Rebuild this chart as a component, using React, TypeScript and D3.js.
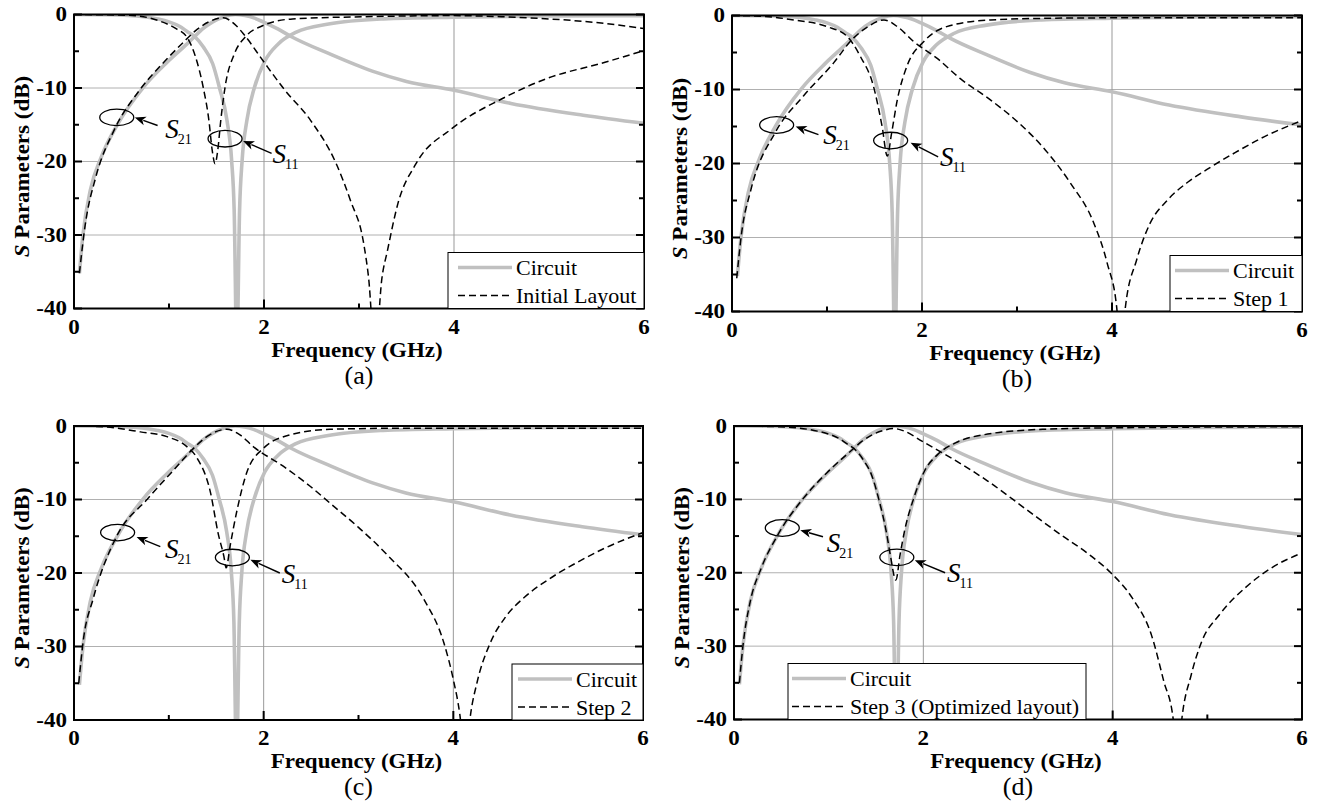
import React from 'react';
import * as d3 from 'd3';

type Pt = [number, number];

const xTicks = [0, 2, 4, 6];
const xMinorTicks = [1, 3, 5];
const yTicks = [0, -10, -20, -30, -40];
const yMinorTicks = [-5, -15, -25, -35];

// circuit response (same in every panel)
const circuitS21: Pt[] = [[0.057,-35.2],[0.096,-29.8],[0.172,-23.9],[0.287,-19.4],[0.46,-14.9],[0.73,-9.9],[0.98,-6.5],[1.19,-4.0],[1.27,-3.0],[1.35,-2.0],[1.46,-1.0],[1.58,-0.3],[1.70,0],[1.80,-0.15],[1.90,-0.5],[1.99,-1.0],[2.15,-2.0],[2.30,-3.1],[2.68,-5.3],[3.14,-7.7],[3.5,-9.1],[4.0,-10.3],[4.6,-12.1],[5.36,-13.7],[6.0,-14.8]];
const circuitS11: Pt[] = [[0,0],[0.3,-0.03],[0.57,-0.12],[0.88,-0.6],[1.0,-1.0],[1.11,-1.6],[1.19,-2.3],[1.27,-3.0],[1.36,-4.4],[1.46,-6.7],[1.53,-9.9],[1.61,-14.4],[1.659,-19.8],[1.686,-26.6],[1.714,-46],[1.743,-26.6],[1.77,-19.8],[1.82,-14.4],[1.90,-9.9],[2.01,-6.3],[2.15,-4.0],[2.34,-2.4],[2.68,-1.3],[3.26,-0.6],[4.0,-0.36],[5.0,-0.2],[6.0,-0.15]];

// layout steps
const initialS21: Pt[] = [[0.057,-35.2],[0.115,-28.9],[0.23,-22.1],[0.42,-15.8],[0.69,-10.3],[0.96,-6.3],[1.15,-3.8],[1.28,-2.2],[1.42,-1.0],[1.57,-0.45],[1.69,-1.3],[1.80,-2.9],[1.99,-6.3],[2.22,-10.3],[2.49,-14.4],[2.76,-20.3],[2.91,-25.3],[3.05,-31.2],[3.10,-35.7],[3.17,-46],[3.24,-36],[3.30,-32.1],[3.41,-25.7],[3.60,-20.3],[3.98,-15.5],[4.5,-11.5],[4.98,-8.7],[5.59,-6.5],[6.0,-4.9]];
const initialS11: Pt[] = [[0,0],[0.57,-0.1],[0.88,-0.8],[1.07,-1.9],[1.19,-3.1],[1.28,-5.8],[1.36,-9.9],[1.42,-14.4],[1.455,-18.5],[1.485,-20.3],[1.513,-18.5],[1.545,-14.4],[1.59,-9.9],[1.69,-5.3],[1.80,-3.1],[1.99,-1.5],[2.30,-0.6],[3.07,-0.3],[4.0,-0.15],[4.5,-0.3],[5.0,-0.6],[5.5,-1.1],[6.0,-1.9]];

const step1S21: Pt[] = [[0.05,-35.5],[0.1,-29.5],[0.2,-23.5],[0.46,-15.7],[0.75,-10.9],[1.07,-6.4],[1.26,-3.3],[1.42,-1.6],[1.6,-0.6],[1.75,-1.6],[1.91,-3.5],[2.16,-5.8],[2.40,-8.5],[2.72,-11.4],[3.0,-14.3],[3.3,-18.2],[3.56,-22.6],[3.81,-28.1],[3.95,-33.5],[4.05,-39.5],[4.095,-46],[4.14,-39.5],[4.26,-33.0],[4.40,-28.1],[4.58,-25.0],[4.8,-22.5],[5.0,-20.8],[5.3,-18.5],[5.6,-16.4],[6.0,-14.2]];
const step1S11: Pt[] = [[0,0],[0.3,-0.1],[0.65,-0.6],[1.0,-1.5],[1.21,-2.8],[1.35,-5.5],[1.49,-9.6],[1.58,-15],[1.635,-19],[1.68,-15.9],[1.74,-11.4],[1.84,-6.9],[2.02,-3.5],[2.26,-1.5],[2.72,-0.6],[3.5,-0.35],[4.5,-0.3],[6.0,-0.3]];

const step2S21: Pt[] = [[0.05,-35],[0.1,-29],[0.2,-23.6],[0.45,-15.0],[0.77,-10.0],[1.05,-6.0],[1.24,-3.3],[1.43,-1.2],[1.61,-0.45],[1.75,-1.2],[1.89,-2.8],[2.21,-5.5],[2.49,-8.2],[2.70,-10.5],[3.0,-13.8],[3.3,-17.5],[3.69,-23.6],[3.90,-29.5],[4.0,-34.5],[4.07,-39.4],[4.125,-46],[4.18,-39.4],[4.25,-34.9],[4.39,-29.5],[4.55,-26.0],[4.75,-23.3],[5.0,-20.9],[5.3,-18.6],[5.6,-16.6],[6.0,-14.5]];
const step2S11: Pt[] = [[0,0],[0.3,-0.1],[0.70,-0.8],[0.98,-1.45],[1.19,-2.8],[1.29,-4.2],[1.44,-9.1],[1.52,-14.6],[1.58,-17.7],[1.605,-19.3],[1.645,-16.4],[1.72,-11.4],[1.82,-6.4],[2.0,-3.0],[2.28,-1.2],[2.7,-0.45],[3.5,-0.3],[6.0,-0.3]];

const step3S21: Pt[] = [[0.057,-35],[0.096,-29.8],[0.172,-23.9],[0.287,-19.4],[0.46,-14.9],[0.73,-9.9],[0.98,-6.4],[1.19,-3.9],[1.27,-3.0],[1.35,-2.1],[1.46,-1.2],[1.58,-0.6],[1.69,-0.35],[1.80,-0.7],[1.99,-2.1],[2.30,-4.4],[2.68,-7.5],[3.07,-11.2],[3.45,-14.8],[3.75,-17.5],[3.98,-20.0],[4.21,-23.5],[4.41,-28.5],[4.54,-34.8],[4.64,-40],[4.685,-46],[4.73,-40],[4.83,-33.9],[4.94,-29.4],[5.13,-25.7],[5.44,-21.6],[5.67,-19.4],[6.0,-17.3]];
const step3S11: Pt[] = [[0,0],[0.3,-0.05],[0.57,-0.15],[0.88,-0.7],[1.0,-1.1],[1.11,-1.7],[1.19,-2.4],[1.27,-3.1],[1.36,-4.5],[1.46,-6.9],[1.53,-10.0],[1.61,-14.5],[1.65,-17.5],[1.71,-21],[1.755,-17.5],[1.80,-14.4],[1.90,-9.8],[2.01,-6.2],[2.15,-3.9],[2.34,-2.3],[2.68,-1.1],[3.26,-0.45],[4.0,-0.25],[6.0,-0.1]];

// annotation anchors in data units: ellipse centre, arrow tip, arrow tail, label
const annotA = { s21: [[0.45,-14.0],[0.64,-14.0],[0.88,-15.1],[0.96,-16.8]], s11: [[1.59,-16.9],[1.78,-17.2],[2.08,-18.9],[2.09,-20.2]] };
const annotB = { s21: [[0.47,-14.8],[0.67,-15.0],[0.91,-16.1],[0.96,-17.4]], s11: [[1.67,-16.9],[1.88,-17.2],[2.17,-19.1],[2.19,-20.4]] };
const annotC = { s21: [[0.46,-14.5],[0.66,-15.1],[0.91,-16.4],[0.96,-17.9]], s11: [[1.67,-17.9],[1.86,-18.2],[2.17,-20.0],[2.19,-21.3]] };
const annotD = { s21: [[0.51,-13.9],[0.70,-14.2],[0.94,-15.1],[0.98,-17.2]], s11: [[1.72,-17.9],[1.91,-18.3],[2.23,-20.0],[2.25,-21.3]] };

const FONT = "'Liberation Serif', 'Times New Roman', serif";
const GRAY = '#c0c0c0';

const panels = [
  { id: 'a', label: '(a)', name: 'Initial Layout', s21: initialS21, s11: initialS11, ann: annotA,
    left: 74, top: 14.5, width: 570, height: 294, leg: { x: 448, w: 196, pad: 10 } },
  { id: 'b', label: '(b)', name: 'Step 1', s21: step1S21, s11: step1S11, ann: annotB,
    left: 732, top: 15.5, width: 570, height: 296, leg: { x: 1170, w: 132, pad: 5 } },
  { id: 'c', label: '(c)', name: 'Step 2', s21: step2S21, s11: step2S11, ann: annotC,
    left: 74, top: 426, width: 569, height: 294, leg: { x: 512, w: 131, pad: 6 } },
  { id: 'd', label: '(d)', name: 'Step 3 (Optimized layout)', s21: step3S21, s11: step3S11, ann: annotD,
    left: 734, top: 426, width: 568, height: 293.5, leg: { x: 788, w: 298, pad: 4 } },
];

function Annotation({ pts, x, y, sub }) {
  const [c, tip, tail, lab] = pts;
  const cx = x(c[0]), cy = y(c[1]);
  const tx = x(tip[0]), ty = y(tip[1]);
  const sx = x(tail[0]), sy = y(tail[1]);
  const dx = tx - sx, dy = ty - sy;
  const len = Math.hypot(dx, dy);
  const ux = dx / len, uy = dy / len;
  const hl = 11, hw = 4.5;
  const bx = tx - ux * hl, by = ty - uy * hl;
  const head = `${tx},${ty} ${bx - uy * hw},${by + ux * hw} ${bx + ux * 3},${by + uy * 3} ${bx + uy * hw},${by - ux * hw}`;
  return (
    <g>
      <ellipse cx={cx} cy={cy} rx={17} ry={8.3} fill="none" stroke="#000" strokeWidth={1.3} />
      <line x1={sx} y1={sy} x2={bx + ux * 2} y2={by + uy * 2} stroke="#000" strokeWidth={1.4} />
      <polygon points={head} fill="#000" />
      <text x={x(lab[0])} y={y(lab[1])} fontFamily={FONT} fontSize={27} fontStyle="italic">
        S<tspan fontSize={14} fontStyle="normal" dx={-1} dy={6}>{sub}</tspan>
      </text>
    </g>
  );
}

function Panel({ cfg }) {
  const { left, top, width, height } = cfg;
  const right = left + width, bottom = top + height;
  const x = d3.scaleLinear().domain([0, 6]).range([left, right]);
  const y = d3.scaleLinear().domain([0, -40]).range([top, bottom]);
  const line = d3.line<Pt>().x(d => x(d[0])).y(d => y(d[1])).curve(d3.curveMonotoneX);
  const clip = `clip-${cfg.id}`;
  const cxm = (left + right) / 2;
  const leg = cfg.leg;
  const legTop = bottom - 56;
  return (
    <g>
      <defs>
        <clipPath id={clip}><rect x={left} y={top} width={width} height={height} /></clipPath>
      </defs>
      {yTicks.slice(1, -1).map(t => (
        <line key={'gy' + t} x1={left} x2={right} y1={y(t)} y2={y(t)} stroke="#b0b0b0" strokeWidth={1} />
      ))}
      {xTicks.slice(1, -1).map(t => (
        <line key={'gx' + t} x1={x(t)} x2={x(t)} y1={top} y2={bottom} stroke="#999" strokeWidth={1} />
      ))}
      <g clipPath={`url(#${clip})`} fill="none">
        <path d={line(circuitS21)} stroke={GRAY} strokeWidth={3.6} />
        <path d={line(circuitS11)} stroke={GRAY} strokeWidth={3.6} />
        <path d={line(cfg.s21)} stroke="#000" strokeWidth={1.5} strokeDasharray="7 4" />
        <path d={line(cfg.s11)} stroke="#000" strokeWidth={1.5} strokeDasharray="7 4" />
      </g>
      <rect x={left} y={top} width={width} height={height} fill="none" stroke="#000" strokeWidth={2} />
      {yTicks.map(t => (
        <g key={'ty' + t}>
          <line x1={left} x2={left + 8} y1={y(t)} y2={y(t)} stroke="#000" strokeWidth={2} />
          <line x1={right} x2={right - 8} y1={y(t)} y2={y(t)} stroke="#000" strokeWidth={2} />
          <text transform={`translate(${left - 7},${y(t) + 6.8}) scale(1.15,1)`} textAnchor="end"
            fontFamily={FONT} fontWeight="bold" fontSize={20}>{t}</text>
        </g>
      ))}
      {yMinorTicks.map(t => (
        <g key={'my' + t}>
          <line x1={left} x2={left + 5} y1={y(t)} y2={y(t)} stroke="#000" strokeWidth={2} />
          <line x1={right} x2={right - 5} y1={y(t)} y2={y(t)} stroke="#000" strokeWidth={2} />
        </g>
      ))}
      {xTicks.map(t => (
        <g key={'tx' + t}>
          <line x1={x(t)} x2={x(t)} y1={bottom} y2={bottom - 9} stroke="#000" strokeWidth={2} />
          <text transform={`translate(${x(t)},${bottom + 25}) scale(1.15,1)`} textAnchor="middle"
            fontFamily={FONT} fontWeight="bold" fontSize={20}>{t}</text>
        </g>
      ))}
      {xMinorTicks.map(t => (
        <line key={'mx' + t} x1={x(t)} x2={x(t)} y1={bottom} y2={bottom - 5} stroke="#000" strokeWidth={2} />
      ))}
      <text transform={`translate(${cxm - 2},${bottom + 48}) scale(1.15,1)`} textAnchor="middle"
        fontFamily={FONT} fontWeight="bold" fontSize={20}>Frequency (GHz)</text>
      <text transform={`translate(${left - 45},${(top + bottom) / 2 + 5}) rotate(-90) scale(1.15,1)`} textAnchor="middle"
        fontFamily={FONT} fontWeight="bold" fontSize={20}>
        <tspan fontStyle="italic">S</tspan> Parameters (dB)
      </text>
      <text x={cxm} y={bottom + 75} textAnchor="middle" fontFamily={FONT} fontSize={26}>{cfg.label}</text>

      <rect x={leg.x} y={legTop} width={leg.w} height={56} fill="#fff" stroke="#000" strokeWidth={1} />
      <line x1={leg.x + leg.pad} x2={leg.x + leg.pad + 54} y1={legTop + 15} y2={legTop + 15} stroke={GRAY} strokeWidth={3.6} />
      <text x={leg.x + leg.pad + 58} y={legTop + 22.5} fontFamily={FONT} fontSize={22}>Circuit</text>
      <line x1={leg.x + leg.pad} x2={leg.x + leg.pad + 54} y1={legTop + 43} y2={legTop + 43} stroke="#000" strokeWidth={1.5} strokeDasharray="7 4" />
      <text x={leg.x + leg.pad + 58} y={legTop + 50.5} fontFamily={FONT} fontSize={22}>{cfg.name}</text>

      <Annotation pts={cfg.ann.s21} x={x} y={y} sub="21" />
      <Annotation pts={cfg.ann.s11} x={x} y={y} sub="11" />
    </g>
  );
}

export default function App() {
  return (
    <svg width={1327} height={809} style={{ position: 'absolute', left: 0, top: 0, background: '#fff' }}>
      <rect width={1327} height={809} fill="#fff" />
      {panels.map(p => <Panel key={p.id} cfg={p} />)}
    </svg>
  );
}
